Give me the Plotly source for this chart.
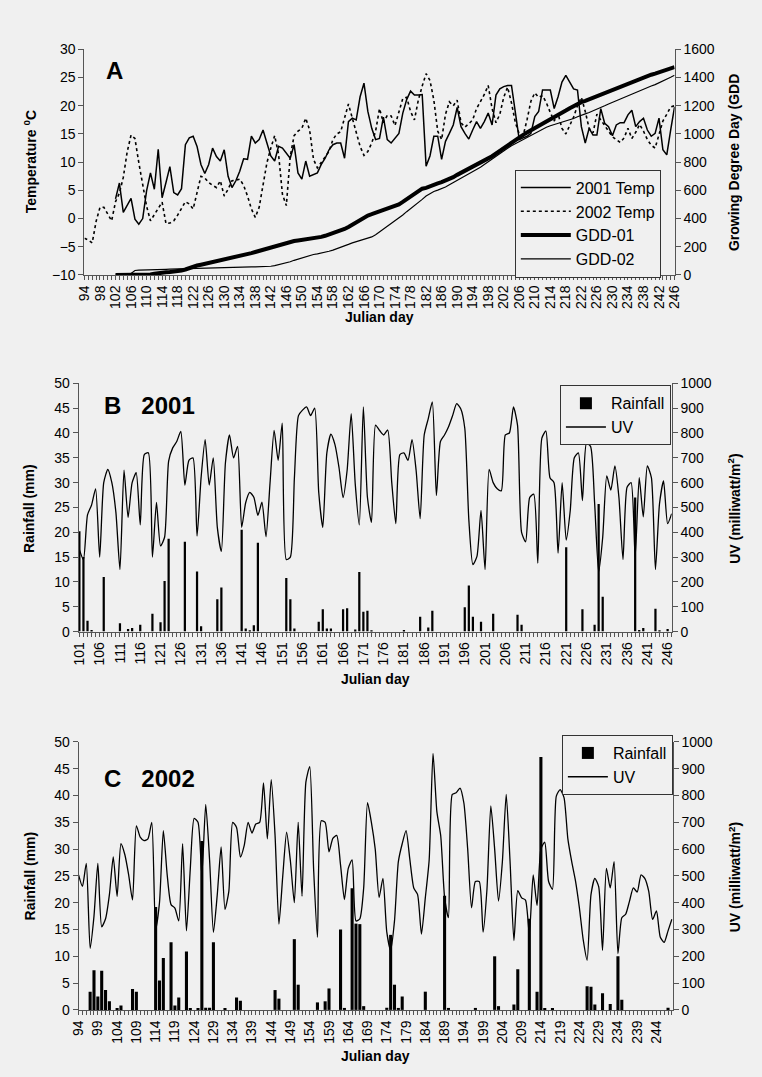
import plotly.graph_objects as go

# ---------------- Panel A: air temperature and growing degree days ----------------
days_2002 = list(range(94, 247))
temp_2002 = [
    -3.5, -3.8, -4.3, -0.5, 2.0, 2.0, 0.8, -0.4, 3.0, 4.5,
    7.3, 11.8, 14.8, 14.2, 9.9, 6.0, 2.2, -0.4, 0.8, 1.8,
    2.9, -0.9, -0.8, -0.4, 0.6, 1.7, 3.0, 2.6, 1.7, 4.6,
    7.5, 7.2, 6.4, 5.9, 5.5, 6.7, 4.0, 5.2, 6.7, 6.8,
    7.0, 5.9, 4.0, 1.7, 0.2, 2.0, 5.8, 9.9, 12.5, 14.7,
    11.4, 4.3, 2.3, 11.0, 14.7, 15.5, 16.0, 17.8, 15.7, 10.5,
    9.0, 9.9, 10.8, 11.9, 14.0, 15.0, 15.4, 18.0, 20.3, 17.8,
    15.3, 12.8, 11.2, 11.9, 13.4, 15.5, 19.5, 17.0, 18.3, 18.2,
    16.5, 19.0, 21.3, 21.5, 19.0, 17.5, 21.0, 23.5, 25.7, 24.5,
    21.0, 15.5, 14.0, 18.5, 20.7, 20.0, 21.0, 17.0, 16.2, 16.8,
    17.5, 19.5, 20.8, 22.0, 23.6, 19.5, 17.0, 18.5, 21.5, 23.3,
    20.5, 17.0, 15.0, 14.7, 17.5, 20.8, 22.3, 21.5, 21.8, 20.5,
    18.8, 17.3, 18.6, 16.0, 15.0, 16.5, 18.0, 20.0, 21.5, 19.0,
    16.0, 15.2, 18.5, 17.5, 16.5, 15.5, 14.5, 14.0, 13.5, 14.3,
    16.0, 14.2, 15.3, 16.7, 15.5, 14.0, 13.0, 12.5, 14.8, 17.3,
    18.5, 19.8, 20.0,
]

days_2001 = list(range(102, 247))
temp_2001 = [
    3.5, 6.3, 1.1, 2.5, 3.6, -0.1, -1.0, 0.0, 4.9, 8.1,
    5.2, 12.3, 3.7, 6.4, 9.2, 4.6, 4.2, 5.3, 13.1, 14.3,
    14.6, 12.8, 9.6, 8.0, 9.6, 12.5, 11.0, 10.2, 12.2, 7.5,
    5.5, 6.7, 8.4, 10.6, 10.5, 14.6, 13.4, 14.0, 15.7, 13.4,
    11.1, 10.2, 12.8, 12.5, 11.6, 10.7, 13.1, 8.1, 7.0, 10.2,
    7.5, 7.8, 8.1, 9.6, 10.7, 12.2, 13.1, 13.4, 13.4, 10.7,
    17.2, 17.8, 17.5, 21.6, 24.0, 19.0, 16.0, 14.0, 14.2, 18.0,
    14.0, 13.4, 14.3, 15.1, 18.7, 21.1, 22.6, 21.9, 21.9, 22.0,
    9.3, 11.1, 14.6, 14.6, 10.5, 13.7, 15.1, 16.6, 19.7, 16.3,
    15.1, 14.1, 15.7, 17.2, 16.0, 17.2, 18.7, 16.6, 21.9, 23.0,
    23.4, 23.6, 23.6, 19.0, 14.0, 14.3, 14.6, 15.1, 18.1, 19.0,
    22.8, 22.8, 22.8, 19.5, 21.6, 24.2, 25.4, 24.2, 23.0, 22.8,
    16.3, 13.4, 16.0, 14.8, 14.8, 19.5, 16.9, 16.3, 14.7, 16.6,
    17.0, 17.0, 18.4, 19.2, 16.3, 17.2, 17.8, 15.7, 14.6, 15.1,
    17.8, 12.2, 11.3, 15.7, 19.8,
]

gdd_01 = [
    0, 0, 0, 0, 0, 0, 0, 0, 1, 4,
    9, 14, 17, 19, 21, 22, 25, 31, 39, 50,
    60, 67, 73, 79, 86, 94, 100, 106, 113, 117,
    120, 124, 130, 138, 146, 155, 163, 171, 180, 189,
    196, 203, 212, 220, 227, 234, 241, 245, 248, 252,
    256, 260, 264, 270, 278, 287, 297, 307, 317, 326,
    341, 357, 374, 392, 410, 422, 431, 440, 449, 460,
    469, 478, 489, 501, 518, 537, 557, 577, 596, 612,
    618, 626, 637, 649, 658, 669, 681, 694, 710, 724,
    737, 749, 763, 779, 794, 810, 827, 842, 861, 881,
    902, 923, 944, 964, 979, 994, 1010, 1025, 1039, 1053,
    1070, 1086, 1102, 1116, 1131, 1148, 1166, 1183, 1199, 1215,
    1226, 1235, 1246, 1256, 1267, 1280, 1291, 1302, 1312, 1323,
    1334, 1346, 1358, 1370, 1381, 1392, 1403, 1412, 1420, 1428,
    1438, 1445, 1451, 1461, 1474,
]

gdd_02 = [
    0, 0, 0, 0, 10, 32, 35, 35, 35, 35,
    36, 37, 39, 40, 41, 42, 44, 45, 46, 47,
    47, 48, 49, 50, 51, 52, 53, 54, 55, 55,
    56, 57, 57, 58, 58, 58, 58, 58, 58, 59,
    62, 66, 73, 80, 84, 94, 104, 113, 122, 131,
    139, 145, 150, 155, 161, 168, 176, 185, 194, 205,
    217, 228, 237, 245, 252, 260, 270, 285, 305, 325,
    342, 360, 380, 402, 425, 449, 470, 490, 512, 536,
    560, 578, 592, 602, 611, 624, 640, 655, 670, 685,
    699, 714, 728, 746, 764, 783, 803, 821, 838, 858,
    879, 899, 916, 931, 945, 958, 974, 992, 1008, 1022,
    1036, 1048, 1058, 1067, 1074, 1080, 1090, 1100, 1110, 1122,
    1134, 1143, 1152, 1163, 1175, 1188, 1200, 1213, 1225, 1236,
    1247, 1259, 1271, 1283, 1294, 1306, 1318, 1329, 1340, 1350,
    1362, 1375, 1388, 1402, 1416,
]

# ---------------- Panel B: 2001 rainfall and UV ----------------
uv_days_2001 = list(range(101, 248))
uv_2001 = [
    330, 290, 470, 510, 575, 300, 600, 653, 600, 480,
    250, 650, 460, 600, 640, 430, 713, 720, 300, 520,
    345, 380, 687, 740, 766, 806, 590, 690, 700, 385,
    620, 773, 590, 700, 420, 323, 680, 792, 700, 746,
    420, 520, 561, 541, 468, 521, 382, 600, 810, 690,
    840, 290, 300, 620, 870, 892, 905, 870, 900, 560,
    420, 720, 795, 753, 660, 540, 650, 878, 594, 430,
    905, 541, 440, 832, 810, 792, 812, 600, 435, 713,
    720, 690, 773, 650, 455, 792, 858, 925, 548, 766,
    792, 825, 870, 918, 898, 819, 450, 270, 303, 488,
    250, 653, 600, 575, 567, 792, 800, 905, 832, 400,
    362, 540, 554, 276, 779, 808, 620, 600, 316, 600,
    369, 488, 700, 720, 528, 759, 746, 520, 240, 380,
    627, 570, 667, 540, 290, 581, 600, 300, 620, 462,
    667, 620, 250, 515, 607, 435, 475,
]
rain_days_2001 = [101, 102, 103, 104, 107, 111, 113, 114, 116, 119,
                  121, 122, 123, 127, 130, 131, 135, 136, 141, 142,
                  143, 144, 145, 152, 153, 154, 160, 161, 162, 163,
                  166, 167, 169, 170, 171, 172, 173, 181, 185, 187,
                  188, 196, 197, 198, 200, 203, 209, 210, 221, 225,
                  228, 229, 230, 238, 239, 240, 243, 244, 246]
rain_2001 = [20.2, 15.0, 2.2, 0.3, 11.0, 1.7, 0.5, 0.7, 1.4, 3.6,
             1.9, 10.2, 18.7, 18.1, 12.1, 1.1, 6.5, 8.9, 20.5, 0.6,
             0.2, 1.3, 17.9, 10.8, 6.5, 0.6, 2.0, 4.5, 0.6, 0.6,
             4.5, 4.7, 0.4, 12.0, 4.0, 4.2, 0.2, 0.3, 3.0, 0.8,
             4.2, 4.9, 9.3, 3.0, 2.0, 3.6, 3.4, 1.4, 17.0, 4.5,
             1.4, 25.7, 7.0, 27.0, 0.3, 0.7, 4.6, 0.2, 0.5]

# ---------------- Panel C: 2002 rainfall and UV ----------------
uv_days_2002 = list(range(94, 249))
uv_2002 = [
    504, 461, 547, 230, 350, 547, 310, 340, 430, 571,
    424, 620, 580, 504, 410, 687, 645, 632, 638, 700,
    300, 400, 669, 504, 393, 380, 332, 620, 295, 528,
    715, 700, 504, 767, 560, 289, 430, 608, 375, 442,
    700, 681, 570, 614, 700, 660, 694, 700, 847, 638,
    859, 651, 320, 500, 663, 553, 400, 700, 424, 850,
    908, 528, 271, 706, 700, 590, 640, 651, 540, 412,
    528, 560, 332, 340, 455, 773, 700, 600, 420, 491,
    290, 222, 332, 553, 620, 669, 560, 455, 430, 283,
    418, 560, 957, 740, 650, 420, 344, 804, 810, 828,
    773, 600, 381, 479, 479, 290, 450, 761, 600, 406,
    553, 804, 553, 259, 445, 418, 410, 283, 504, 390,
    600, 626, 479, 450, 798, 822, 792, 638, 553, 480,
    380, 260, 185, 430, 491, 460, 222, 528, 455, 553,
    210, 344, 357, 406, 455, 440, 504, 490, 442, 338,
    369, 271, 252, 295, 338,
]
rain_days_2002 = [97, 98, 99, 100, 101, 102, 104, 105, 108, 109,
                  114, 115, 116, 118, 119, 120, 122, 123, 125, 126,
                  127, 128, 129, 132, 135, 136, 145, 146, 150, 151,
                  156, 158, 159, 162, 163, 165, 166, 167, 168, 174,
                  175, 176, 177, 178, 184, 189, 190, 197, 202, 203,
                  207, 208, 211, 213, 214, 215, 217, 226, 227, 228,
                  230, 232, 234, 235, 247]
rain_2002 = [3.4, 7.4, 2.5, 7.3, 3.7, 1.6, 0.3, 0.8, 3.9, 3.4,
             19.2, 5.5, 9.7, 12.6, 0.8, 2.3, 10.9, 0.3, 0.3, 31.5,
             0.4, 0.4, 12.6, 0.2, 2.3, 1.7, 3.7, 2.1, 13.2, 4.7,
             1.4, 1.6, 4.0, 15.0, 0.2, 22.7, 16.1, 16.0, 0.7, 0.4,
             14.0, 4.7, 0.3, 2.5, 3.4, 21.3, 0.2, 0.2, 10.0, 0.7,
             1.0, 7.6, 17.0, 3.4, 47.2, 0.2, 0.2, 4.4, 4.3, 1.0,
             3.1, 1.1, 10.0, 1.9, 0.4]

# ---------------- styling ----------------
FONT = "Liberation Sans, Arial, sans-serif"
BG = "#f0f0f0"
AX = "#555555"
INK = "#000000"
W, H = 762, 1077

fig = go.Figure()

# Panel A traces
fig.add_trace(go.Scatter(x=days_2001, y=temp_2001, name="2001 Temp", mode="lines",
                         line=dict(color=INK, width=1.5), xaxis="x", yaxis="y", legend="legend"))
fig.add_trace(go.Scatter(x=days_2002, y=temp_2002, name="2002 Temp", mode="lines",
                         line=dict(color=INK, width=1.6, dash="dot"), xaxis="x", yaxis="y", legend="legend"))
fig.add_trace(go.Scatter(x=days_2001, y=gdd_01, name="GDD-01", mode="lines",
                         line=dict(color=INK, width=4), xaxis="x", yaxis="y2", legend="legend"))
fig.add_trace(go.Scatter(x=days_2001, y=gdd_02, name="GDD-02", mode="lines",
                         line=dict(color=INK, width=1.2), xaxis="x", yaxis="y2", legend="legend"))

# Panel B traces
fig.add_trace(go.Bar(x=rain_days_2001, y=rain_2001, name="Rainfall", width=0.55,
                     marker=dict(color=INK, line=dict(width=0)), xaxis="x2", yaxis="y3", legend="legend2"))
fig.add_trace(go.Scatter(x=uv_days_2001, y=uv_2001, name="UV", mode="lines",
                         line=dict(color=INK, width=1.3, shape="spline", smoothing=0.6),
                         xaxis="x2", yaxis="y4", legend="legend2"))

# Panel C traces
fig.add_trace(go.Bar(x=rain_days_2002, y=rain_2002, name="Rainfall", width=0.8,
                     marker=dict(color=INK, line=dict(width=0)), xaxis="x3", yaxis="y5", legend="legend3"))
fig.add_trace(go.Scatter(x=uv_days_2002, y=uv_2002, name="UV", mode="lines",
                         line=dict(color=INK, width=1.3, shape="spline", smoothing=0.6),
                         xaxis="x3", yaxis="y6", legend="legend3"))


def px_x(p):
    return p / W


def px_y(p):
    return 1 - p / H


def day_axis(domain, anchor, rng, tick0, dtick):
    return dict(
        domain=domain, anchor=anchor, range=rng,
        tickmode="linear", tick0=tick0, dtick=dtick, tickangle=-90,
        ticks="outside", ticklen=4, tickwidth=1, tickcolor=AX,
        minor=dict(tickmode="linear", tick0=tick0, dtick=1, ticks="outside",
                   ticklen=4, tickwidth=1, tickcolor=AX, showgrid=False),
        showline=True, linecolor=AX, linewidth=1,
        showgrid=False, zeroline=False,
        tickfont=dict(family=FONT, size=14, color=INK),
    )


def value_axis(anchor, rng, dtick, side="left", overlaying=None, domain=None):
    ax = dict(
        anchor=anchor, range=rng, tickmode="linear", tick0=rng[0], dtick=dtick,
        ticks="outside", ticklen=5, tickwidth=1, tickcolor=AX,
        showline=True, linecolor=AX, linewidth=1,
        showgrid=False, zeroline=False, side=side,
        tickfont=dict(family=FONT, size=14, color=INK),
    )
    if overlaying:
        ax["overlaying"] = overlaying
    if domain:
        ax["domain"] = domain
    return ax


dom_a_x = [px_x(78), px_x(680)]
dom_a_y = [px_y(271), px_y(42)]
dom_b_x = [px_x(72), px_x(677)]
dom_b_y = [px_y(633), px_y(381)]
dom_c_x = [px_x(72), px_x(678)]
dom_c_y = [px_y(1017), px_y(745)]

legend_common = dict(
    xanchor="left", yanchor="top", bgcolor=BG, bordercolor="#333333", borderwidth=1,
    font=dict(family=FONT, size=16, color=INK), traceorder="normal", tracegroupgap=0,
)


def label(text, x, y, size=14, angle=0, xanchor="center"):
    return dict(text=text, x=px_x(x), y=px_y(y), xref="paper", yref="paper",
                xanchor=xanchor, yanchor="middle", textangle=angle, showarrow=False,
                font=dict(family=FONT, size=size, color=INK))


annotations = [
    # panel letters
    label("<b>A</b>", 98, 63, size=24, xanchor="left"),
    label("<b>B\u00a0\u00a0\u00a02001</b>", 96, 403, size=24, xanchor="left"),
    label("<b>C\u00a0\u00a0\u00a02002</b>", 96, 782, size=24, xanchor="left"),
    # x-axis titles
    label("<b>Julian day</b>", 379, 314),
    label("<b>Julian day</b>", 375, 681),
    label("<b>Julian day</b>", 375, 1064),
    # left y-axis titles
    label("<b>Temperature <sup>0</sup>C</b>", 22, 156, angle=-90),
    label("<b>Rainfall (mm)</b>", 22, 508, angle=-90),
    label("<b>Rainfall (mm)</b>", 22, 881, angle=-90),
    # right y-axis titles
    label("<b>Growing Degree Day (GDD</b>", 740, 157, angle=-90),
    label("<b>UV (milliwatt/m<sup>2</sup>)</b>", 741, 508, angle=-90),
    label("<b>UV (milliwatt/m<sup>2</sup>)</b>", 741, 882, angle=-90),
]

fig.update_layout(
    width=W, height=H,
    margin=dict(l=0, r=0, t=0, b=0),
    paper_bgcolor=BG, plot_bgcolor=BG,
    font=dict(family=FONT, size=14, color=INK),
    barmode="overlay",
    xaxis=day_axis(dom_a_x, "y", [94, 246.02], 94, 4),
    yaxis=value_axis("x", [-10, 30], 5, domain=dom_a_y),
    yaxis2=value_axis("x", [0, 1600], 200, side="right", overlaying="y"),
    xaxis2=day_axis(dom_b_x, "y3", [100.8, 247], 101, 5),
    yaxis3=value_axis("x2", [0, 50], 5, domain=dom_b_y),
    yaxis4=value_axis("x2", [0, 1000], 100, side="right", overlaying="y3"),
    xaxis3=day_axis(dom_c_x, "y5", [94, 248.2], 94, 5),
    yaxis5=value_axis("x3", [0, 50], 5, domain=dom_c_y),
    yaxis6=value_axis("x3", [0, 1000], 100, side="right", overlaying="y5"),
    legend=dict(x=px_x(517), y=px_y(164), itemwidth=50, **legend_common),
    legend2=dict(x=px_x(563), y=px_y(383), itemwidth=40, **legend_common),
    legend3=dict(x=px_x(565), y=px_y(738), itemwidth=40, **legend_common),
    annotations=annotations,
)

fig.write_html("out.html")
